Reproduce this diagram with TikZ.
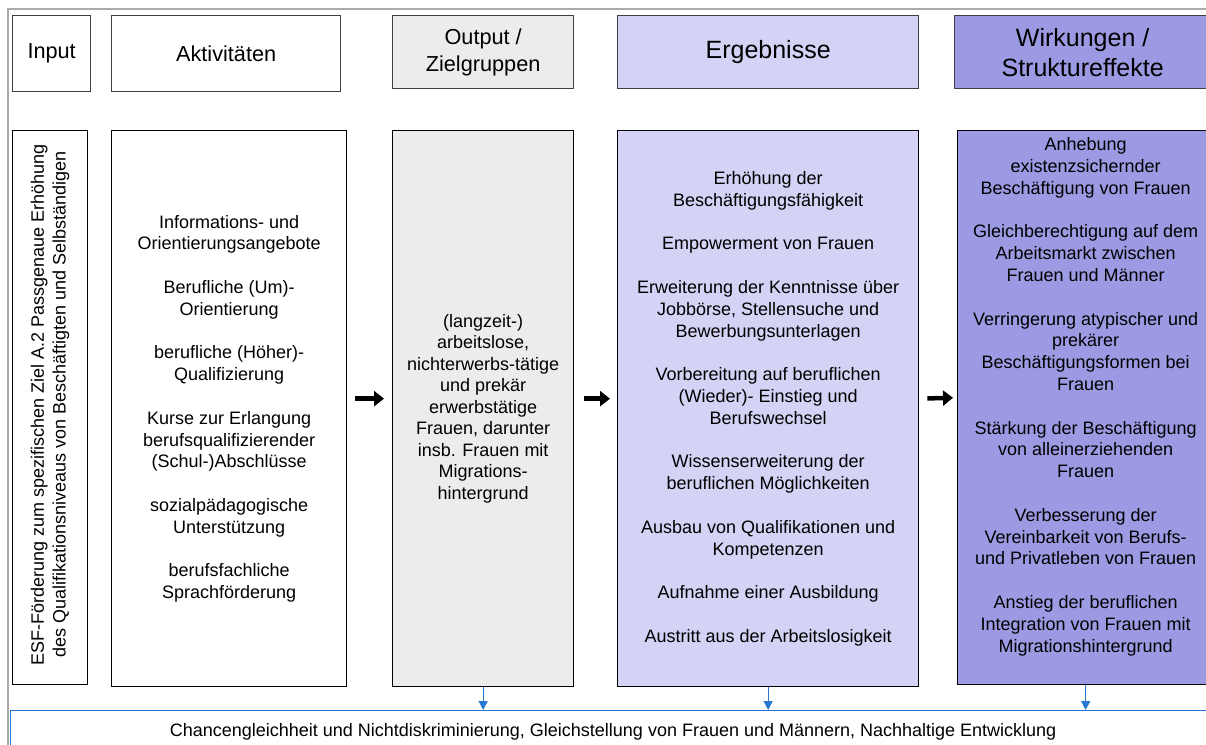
\documentclass[tikz,border=0pt]{standalone}
\usepackage{fontspec}
\setmainfont{Liberation Sans}
\usetikzlibrary{arrows.meta}
\definecolor{outgray}{RGB}{236,236,236}
\definecolor{ergfill}{RGB}{212,210,245}
\definecolor{wirkfill}{RGB}{156,154,226}
\definecolor{frameline}{RGB}{170,170,170}
\definecolor{hdrline}{RGB}{64,64,64}
\definecolor{blueline}{RGB}{40,120,210}
\begin{document}
\begin{tikzpicture}[x=1pt,y=-1pt,
  hdr/.style={draw=hdrline, line width=1.3pt, align=center, inner sep=0pt, anchor=north west,
    font=\fontsize{21.7}{27}\selectfont},
  hdrbig/.style={hdr, font=\fontsize{25}{30}\selectfont},
  bodybox/.style={draw=black, line width=1.3pt, align=center, inner sep=0pt, anchor=north west,
    font=\fontsize{18}{21.8}\selectfont},
  bodytext/.style={align=center, inner sep=0pt, font=\fontsize{18}{21.8}\selectfont},
  bigarrow/.style={line width=4.5pt, -{Triangle[length=10pt,width=15pt]}},
  bluearrow/.style={draw=blueline, line width=1.2pt, -{Triangle[length=9pt,width=9pt]}}
]
\useasboundingbox (0,0) rectangle (1206,744);
\clip (0,0) rectangle (1206,744);
\fill[white] (0,0) rectangle (1206,744);
% outer frame
\draw[frameline, line width=2pt] (8,750) -- (8,9) -- (1220,9);

% headers
\node[hdr, minimum width=78, minimum height=76] (hin) at (12,15) {Input};
\node[hdr, minimum width=229, minimum height=76] (hakt) at (111,15) {Aktivitäten};
\node[hdr, fill=outgray, minimum width=181, minimum height=73] (hout) at (392,15) {Output /\\Zielgruppen};
\node[hdrbig, fill=ergfill, minimum width=301, minimum height=73] (herg) at (617,15) {Ergebnisse};
\node[hdrbig, fill=wirkfill, minimum width=256, minimum height=73] (hwirk) at (954,15) {Wirkungen /\\Struktureffekte};

% bodies
\node[bodybox, minimum width=75, minimum height=554] (bin) at (12,130) {};
\node[bodytext, rotate=90] (tin) at ([yshift=3pt]bin.center) {ESF-Förderung zum spezifischen Ziel A.2 Passgenaue Erhöhung\\des Qualifikationsniveaus von Beschäftigten und Selbständigen};

\node[bodybox, minimum width=235, minimum height=556] (bakt) at (111,130) {Informations- und\\Orientierungsangebote\\[21.8pt]
Berufliche (Um)-\\Orientierung\\[21.8pt]
berufliche (Höher)-\\Qualifizierung\\[21.8pt]
Kurse zur Erlangung\\berufsqualifizierender\\(Schul-)Abschlüsse\\[21.8pt]
sozialpädagogische\\Unterstützung\\[21.8pt]
berufsfachliche\\Sprachförderung};

\node[bodybox, fill=outgray, minimum width=181, minimum height=556, font=\fontsize{18}{21.5}\selectfont] (bout) at (392,130) {(langzeit-)\\arbeitslose,\\nichterwerbs-tätige\\und prekär\\erwerbstätige\\Frauen, darunter\\insb. Frauen mit\\Migrations-\\hintergrund};

\node[bodybox, fill=ergfill, minimum width=301, minimum height=556] (berg) at (617,130) {Erhöhung der\\Beschäftigungsfähigkeit\\[21.8pt]
Empowerment von Frauen\\[21.8pt]
Erweiterung der Kenntnisse über\\Jobbörse, Stellensuche und\\Bewerbungsunterlagen\\[21.8pt]
Vorbereitung auf beruflichen\\(Wieder)- Einstieg und\\Berufswechsel\\[21.8pt]
Wissenserweiterung der\\beruflichen Möglichkeiten\\[21.8pt]
Ausbau von Qualifikationen und\\Kompetenzen\\[21.8pt]
Aufnahme einer Ausbildung\\[21.8pt]
Austritt aus der Arbeitslosigkeit};

\node[bodybox, fill=wirkfill, minimum width=256, minimum height=554] (bwirk) at (957,130) {};
\node[bodytext] (twirk) at ([yshift=11pt]bwirk.center) {Anhebung\\existenzsichernder\\Beschäftigung von Frauen\\[21.8pt]
Gleichberechtigung auf dem\\Arbeitsmarkt zwischen\\Frauen und Männer\\[21.8pt]
Verringerung atypischer und\\prekärer\\Beschäftigungsformen bei\\Frauen\\[21.8pt]
Stärkung der Beschäftigung\\von alleinerziehenden\\Frauen\\[21.8pt]
Verbesserung der\\Vereinbarkeit von Berufs-\\und Privatleben von Frauen\\[21.8pt]
Anstieg der beruflichen\\Integration von Frauen mit\\Migrationshintergrund};

% bottom bar
\node[draw=blueline, line width=1.2pt, anchor=north west, minimum width=1205, minimum height=42, inner sep=0pt,
  font=\fontsize{18}{21}\selectfont] (bar) at (10,710) {Chancengleichheit und Nichtdiskriminierung, Gleichstellung von Frauen und Männern, Nachhaltige Entwicklung};

% black arrows
\draw[bigarrow, shorten <=8pt, shorten >=8pt] ([yshift=10pt]bakt.east) -- ([yshift=10pt]bout.west);
\draw[bigarrow, shorten <=10pt, shorten >=7pt] ([yshift=10pt]bout.east) -- ([yshift=10pt]berg.west);
\draw[bigarrow, shorten <=8pt, shorten >=4pt] ([yshift=10pt]berg.east) -- ([yshift=10pt]bwirk.west);

% blue arrows
\draw[bluearrow] (bout.south) -- (bout.south |- bar.north);
\draw[bluearrow] (berg.south) -- (berg.south |- bar.north);
\draw[bluearrow] (bwirk.south) -- (bwirk.south |- bar.north);
\end{tikzpicture}
\end{document}
